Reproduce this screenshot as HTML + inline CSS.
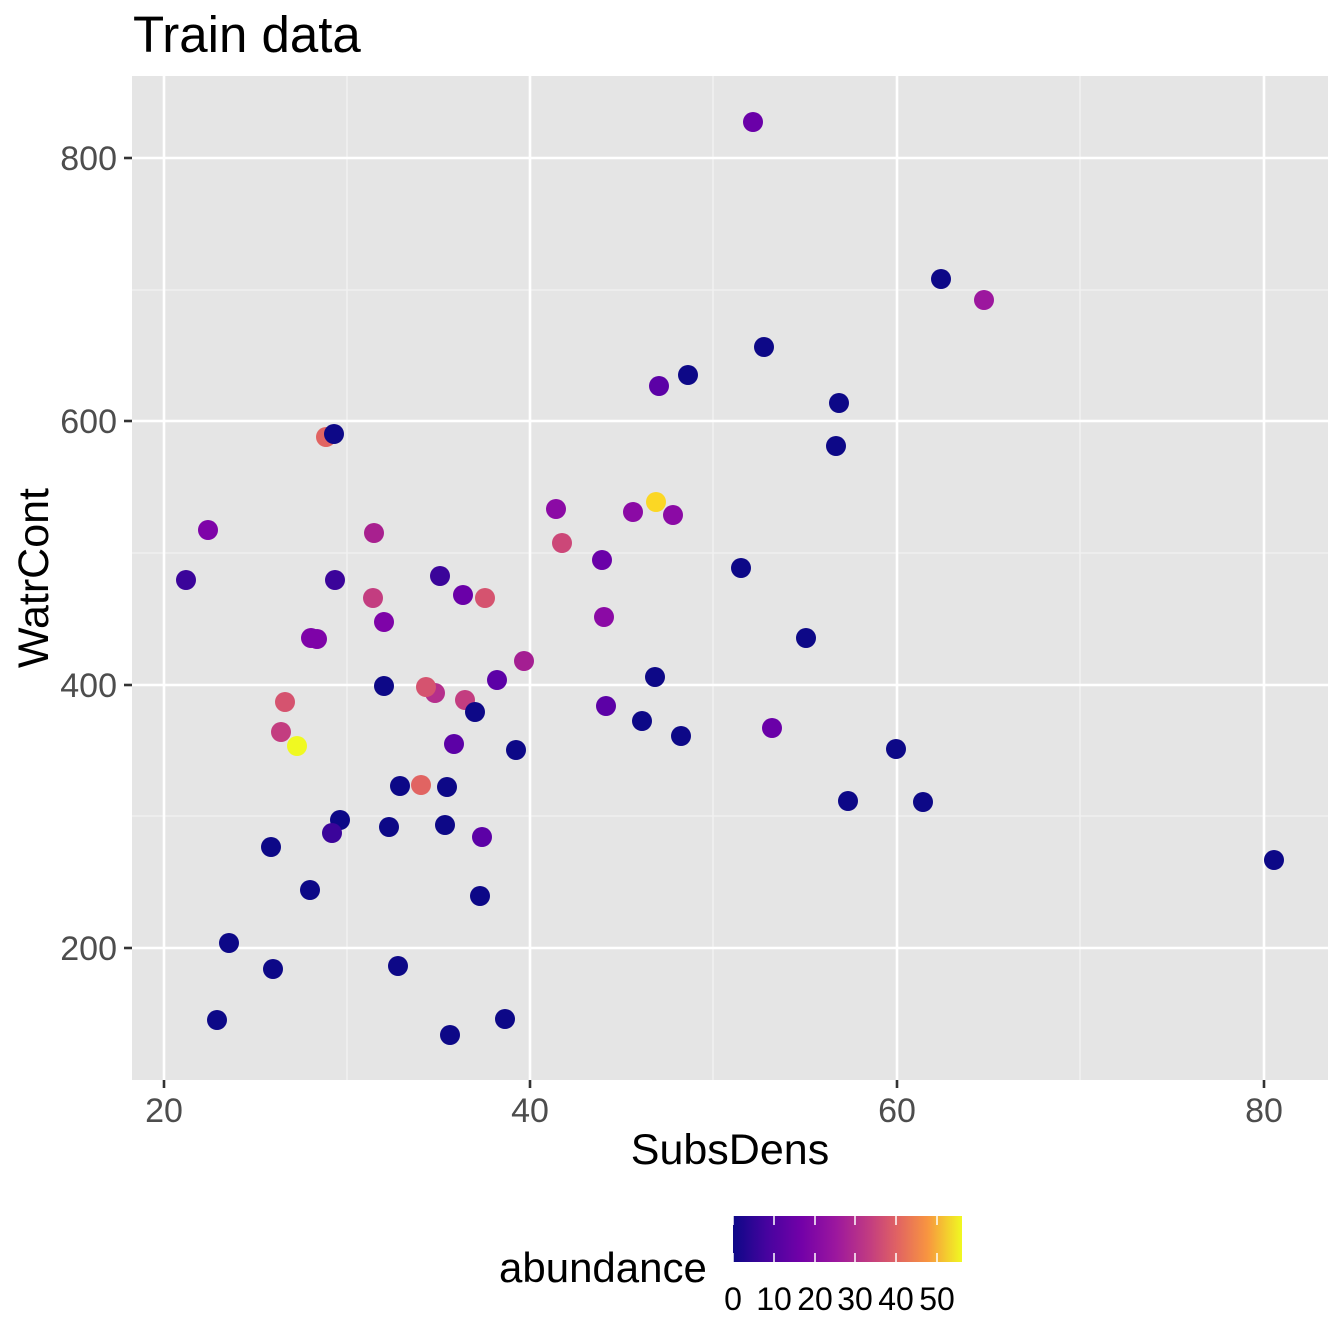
<!DOCTYPE html>
<html><head><style>body{margin:0;background:#fff}svg{display:block}text{font-family:"Liberation Sans",Arial,sans-serif}</style></head><body>
<svg width="1344" height="1344" viewBox="0 0 1344 1344" xmlns="http://www.w3.org/2000/svg">
<defs><linearGradient id="g" x1="0" x2="1" y1="0" y2="0">
<stop offset="0" stop-color="#0d0887"/><stop offset="0.15" stop-color="#47039f"/><stop offset="0.3" stop-color="#7301a8"/><stop offset="0.45" stop-color="#9c179e"/><stop offset="0.6" stop-color="#c33d80"/><stop offset="0.72" stop-color="#e16462"/><stop offset="0.85" stop-color="#f89540"/><stop offset="1" stop-color="#f0f921"/></linearGradient></defs>
<text x="133" y="52" font-size="51" fill="#000">Train data</text>
<rect x="132" y="76" width="1196" height="1004" fill="#e5e5e5"/>
<g stroke="#f2f2f2" stroke-width="1.3">
<line x1="347" x2="347" y1="76" y2="1080"/><line x1="713" x2="713" y1="76" y2="1080"/><line x1="1080" x2="1080" y1="76" y2="1080"/>
<line x1="132" x2="1328" y1="290" y2="290"/><line x1="132" x2="1328" y1="553" y2="553"/><line x1="132" x2="1328" y1="816" y2="816"/>
</g>
<g stroke="#fff" stroke-width="2.6">
<line x1="164" x2="164" y1="76" y2="1080"/><line x1="530" x2="530" y1="76" y2="1080"/><line x1="897" x2="897" y1="76" y2="1080"/><line x1="1264" x2="1264" y1="76" y2="1080"/>
<line x1="132" x2="1328" y1="158" y2="158"/><line x1="132" x2="1328" y1="421" y2="421"/><line x1="132" x2="1328" y1="685" y2="685"/><line x1="132" x2="1328" y1="948" y2="948"/>
</g>
<g stroke="#333" stroke-width="2.6">
<line x1="124" x2="132" y1="158" y2="158"/><line x1="124" x2="132" y1="421" y2="421"/><line x1="124" x2="132" y1="685" y2="685"/><line x1="124" x2="132" y1="948" y2="948"/>
<line x1="164" x2="164" y1="1080" y2="1088"/><line x1="530" x2="530" y1="1080" y2="1088"/><line x1="897" x2="897" y1="1080" y2="1088"/><line x1="1264" x2="1264" y1="1080" y2="1088"/>
</g>
<g font-size="34" fill="#4d4d4d" text-anchor="end">
<text x="117" y="170">800</text><text x="117" y="433">600</text><text x="117" y="697">400</text><text x="117" y="960">200</text></g>
<g font-size="34" fill="#4d4d4d" text-anchor="middle">
<text x="164" y="1122">20</text><text x="530" y="1122">40</text><text x="897" y="1122">60</text><text x="1264" y="1122">80</text></g>
<text x="730" y="1164" font-size="43" text-anchor="middle">SubsDens</text>
<text transform="translate(48,578) rotate(-90)" font-size="43" text-anchor="middle">WatrCont</text>
<g>
<circle cx="753" cy="122" r="10" fill="#6a00a8"/><circle cx="941" cy="279" r="10" fill="#0d0887"/><circle cx="984" cy="300" r="10" fill="#9c179e"/>
<circle cx="764" cy="347" r="10" fill="#0d0887"/><circle cx="688" cy="375" r="10" fill="#0d0887"/><circle cx="659" cy="386" r="10" fill="#5c01a6"/>
<circle cx="839" cy="403" r="10" fill="#0d0887"/><circle cx="836" cy="446" r="10" fill="#0d0887"/><circle cx="326" cy="437" r="10" fill="#e16462"/>
<circle cx="334" cy="434" r="10" fill="#0d0887"/><circle cx="208" cy="530" r="10" fill="#7e03a8"/><circle cx="374" cy="533" r="10" fill="#a8208f"/>
<circle cx="556" cy="509" r="10" fill="#8b0aa5"/><circle cx="633" cy="512" r="10" fill="#8b0aa5"/><circle cx="656" cy="502" r="10" fill="#fbd724"/>
<circle cx="673" cy="515" r="10" fill="#8b0aa5"/><circle cx="562" cy="543" r="10" fill="#cc4778"/><circle cx="602" cy="560" r="10" fill="#6a00a8"/>
<circle cx="741" cy="568" r="10" fill="#0d0887"/><circle cx="186" cy="580" r="10" fill="#3b049a"/><circle cx="335" cy="580" r="10" fill="#3b049a"/>
<circle cx="440" cy="576" r="10" fill="#3b049a"/><circle cx="463" cy="595" r="10" fill="#6a00a8"/><circle cx="485" cy="598" r="10" fill="#d5536f"/>
<circle cx="373" cy="598" r="10" fill="#c33d80"/><circle cx="604" cy="617" r="10" fill="#8b0aa5"/><circle cx="384" cy="622" r="10" fill="#7e03a8"/>
<circle cx="311" cy="638" r="10" fill="#7e03a8"/><circle cx="317" cy="639" r="10" fill="#7e03a8"/><circle cx="806" cy="638" r="10" fill="#0d0887"/>
<circle cx="524" cy="661" r="10" fill="#a41e92"/><circle cx="655" cy="677" r="10" fill="#0d0887"/><circle cx="384" cy="686" r="10" fill="#0d0887"/>
<circle cx="497" cy="680" r="10" fill="#5c01a6"/><circle cx="435" cy="693" r="10" fill="#b52f8c"/><circle cx="426" cy="687" r="10" fill="#d5536f"/>
<circle cx="285" cy="702" r="10" fill="#d5536f"/><circle cx="465" cy="700" r="10" fill="#c33d80"/><circle cx="606" cy="706" r="10" fill="#5c01a6"/>
<circle cx="475" cy="712" r="10" fill="#0d0887"/><circle cx="642" cy="721" r="10" fill="#0d0887"/><circle cx="772" cy="728" r="10" fill="#6a00a8"/>
<circle cx="281" cy="732" r="10" fill="#c33d80"/><circle cx="681" cy="736" r="10" fill="#0d0887"/><circle cx="297" cy="746" r="10" fill="#f0f921"/>
<circle cx="454" cy="744" r="10" fill="#5c01a6"/><circle cx="516" cy="750" r="10" fill="#0d0887"/><circle cx="896" cy="749" r="10" fill="#0d0887"/>
<circle cx="421" cy="785" r="10" fill="#e16462"/><circle cx="400" cy="786" r="10" fill="#0d0887"/><circle cx="447" cy="787" r="10" fill="#0d0887"/>
<circle cx="848" cy="801" r="10" fill="#0d0887"/><circle cx="923" cy="802" r="10" fill="#0d0887"/><circle cx="340" cy="820" r="10" fill="#0d0887"/>
<circle cx="389" cy="827" r="10" fill="#0d0887"/><circle cx="445" cy="825" r="10" fill="#0d0887"/><circle cx="332" cy="833" r="10" fill="#3b049a"/>
<circle cx="482" cy="837" r="10" fill="#5c01a6"/><circle cx="271" cy="847" r="10" fill="#0d0887"/><circle cx="1274" cy="860" r="10" fill="#0d0887"/>
<circle cx="310" cy="890" r="10" fill="#0d0887"/><circle cx="480" cy="896" r="10" fill="#0d0887"/><circle cx="229" cy="943" r="10" fill="#0d0887"/>
<circle cx="273" cy="969" r="10" fill="#0d0887"/><circle cx="398" cy="966" r="10" fill="#0d0887"/><circle cx="217" cy="1020" r="10" fill="#0d0887"/>
<circle cx="505" cy="1019" r="10" fill="#0d0887"/><circle cx="450" cy="1035" r="10" fill="#0d0887"/>
</g>
<text x="499" y="1282" font-size="42">abundance</text>
<rect x="733" y="1216" width="229" height="46" fill="url(#g)"/>
<g stroke="#fff" stroke-width="1.5">
<line x1="733" x2="733" y1="1216" y2="1225"/><line x1="733" x2="733" y1="1253" y2="1262"/>
<line x1="774" x2="774" y1="1216" y2="1225"/><line x1="774" x2="774" y1="1253" y2="1262"/>
<line x1="815" x2="815" y1="1216" y2="1225"/><line x1="815" x2="815" y1="1253" y2="1262"/>
<line x1="855" x2="855" y1="1216" y2="1225"/><line x1="855" x2="855" y1="1253" y2="1262"/>
<line x1="896" x2="896" y1="1216" y2="1225"/><line x1="896" x2="896" y1="1253" y2="1262"/>
<line x1="937" x2="937" y1="1216" y2="1225"/><line x1="937" x2="937" y1="1253" y2="1262"/>
</g>
<g font-size="32" fill="#000" text-anchor="middle">
<text x="733" y="1310">0</text><text x="774" y="1310">10</text><text x="815" y="1310">20</text><text x="855" y="1310">30</text><text x="896" y="1310">40</text><text x="937" y="1310">50</text></g>
</svg>
</body></html>
